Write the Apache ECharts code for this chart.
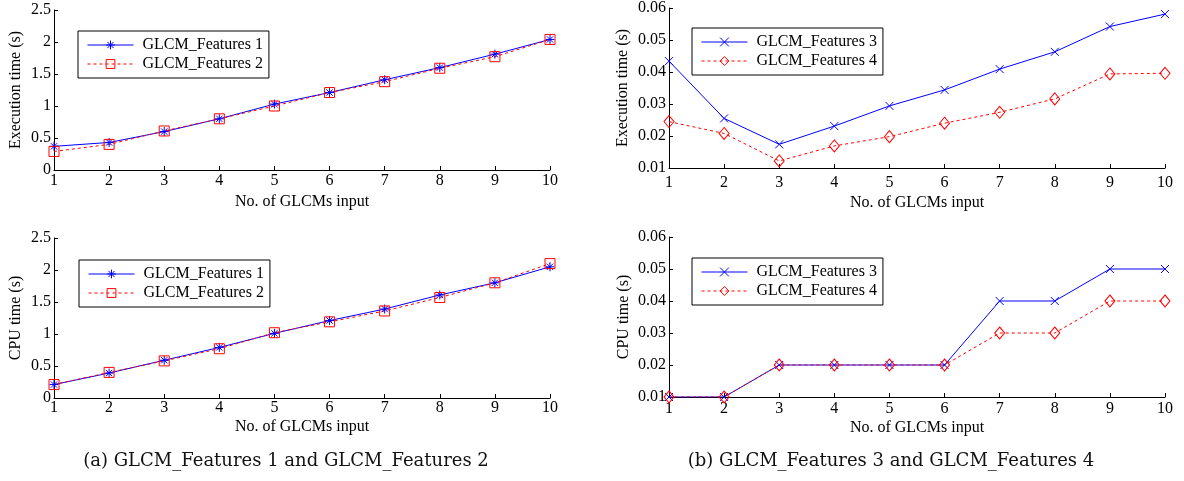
<!DOCTYPE html>
<html>
<head>
<meta charset="utf-8">
<script src="https://cdn.jsdelivr.net/npm/echarts@6/dist/echarts.min.js"></script>
<style>
html,body{margin:0;padding:0;background:#fff;}
#c{width:1184px;height:481px;}
</style>
</head>
<body>
<div id="c"></div>
<script>
const xInputs = [1,2,3,4,5,6,7,8,9,10];
const execF1 = [0.37,0.43,0.60,0.80,1.03,1.21,1.41,1.60,1.81,2.04];
const execF2 = [0.29,0.40,0.61,0.80,1.00,1.21,1.38,1.59,1.77,2.04];
const cpuF1  = [0.21,0.39,0.59,0.79,1.01,1.21,1.39,1.61,1.80,2.05];
const cpuF2  = [0.21,0.40,0.58,0.77,1.02,1.19,1.36,1.57,1.80,2.10];
const execF3 = [0.0434,0.0255,0.0174,0.0231,0.0294,0.0344,0.0409,0.0463,0.0542,0.0581];
const execF4 = [0.0245,0.0208,0.0122,0.0169,0.0198,0.0240,0.0274,0.0316,0.0394,0.0396];
const cpuF3  = [0.01,0.01,0.02,0.02,0.02,0.02,0.04,0.04,0.05,0.05];
const cpuF4  = [0.01,0.01,0.02,0.02,0.02,0.02,0.03,0.03,0.04,0.04];
const names = ['GLCM_Features 1','GLCM_Features 2','GLCM_Features 3','GLCM_Features 4'];
const xAxisName = 'No. of GLCMs input';
const yNames = ['Execution time (s)','CPU time (s)','Execution time (s)','CPU time (s)'];
const captions = ['(a) GLCM_Features 1 and GLCM_Features 2','(b) GLCM_Features 3 and GLCM_Features 4'];

const FONT = '"Liberation Serif", "Times New Roman", serif';
const BLUE = '#0000ff', RED = '#ff0000';
const SYM = {
  star: 'path://M5,0L5,10M0,5L10,5M1.5,1.5L8.5,8.5M1.5,8.5L8.5,1.5',
  square: 'path://M0,0L10,0L10,10L0,10Z',
  cross: 'path://M0,0L10,10M0,10L10,0',
  diamond: 'path://M5,0L10,6L5,12L0,6Z'
};
const pair = arr => xInputs.map((x,i)=>[x, arr[i]]);

const grids = [
  {left:54, top:10, width:496, height:160},
  {left:54, top:238, width:496, height:160},
  {left:669, top:8, width:496, height:160},
  {left:669, top:237, width:496, height:160}
];
const xLabelMargin = [3,2,7,4];
const xNameGap = [24,21,27,23];
const yNameGap = [30,30,38,37];

const axisCommon = {
  axisLine:{show:true, lineStyle:{color:'#000', width:1}},
  axisTick:{show:true, inside:true, length:4, lineStyle:{color:'#000'}},
  splitLine:{show:false},
  nameTextStyle:{fontFamily:FONT, fontSize:16, color:'#000'}
};

const xAxes = grids.map((g,i)=>Object.assign({}, axisCommon, {
  type:'value', gridIndex:i, min:1, max:10, interval:1,
  name:xAxisName, nameLocation:'middle', nameGap:xNameGap[i],
  axisLabel:{fontFamily:FONT, fontSize:16, color:'#000', margin:xLabelMargin[i]}
}));
const yAxes = grids.map((g,i)=>Object.assign({}, axisCommon, {
  type:'value', gridIndex:i,
  min: i<2 ? 0 : 0.01, max: i<2 ? 2.5 : 0.06, interval: i<2 ? 0.5 : 0.01,
  name:yNames[i], nameLocation:'middle', nameGap:yNameGap[i], nameRotate:90,
  axisLabel:{fontFamily:FONT, fontSize:16, color:'#000', margin:3,
    formatter: i<2 ? (v=>String(+v.toFixed(1))) : (v=>v.toFixed(2))}
}));

function mk(name, arr, idx, color, dashed, sym, size){
  return {
    type:'line', name, xAxisIndex:idx, yAxisIndex:idx, data:pair(arr),
    symbol:sym, symbolSize:size, showAllSymbol:true, animation:false,
    lineStyle:{color, width:1, type: dashed ? [3,3] : 'solid'},
    itemStyle:{color:'rgba(0,0,0,0)', borderColor:color, borderWidth:1}
  };
}
const series = [
  mk(names[0], execF1, 0, BLUE, false, SYM.star, 9),
  mk(names[1], execF2, 0, RED, true, SYM.square, 10),
  mk(names[0], cpuF1, 1, BLUE, false, SYM.star, 9),
  mk(names[1], cpuF2, 1, RED, true, SYM.square, 10),
  mk(names[2], execF3, 2, BLUE, false, SYM.cross, 8),
  mk(names[3], execF4, 2, RED, true, SYM.diamond, [10,12]),
  mk(names[2], cpuF3, 3, BLUE, false, SYM.cross, 8),
  mk(names[3], cpuF4, 3, RED, true, SYM.diamond, [10,12])
];

const legPos = [
  {left:78, top:31, data:[names[0],names[1]]},
  {left:79, top:260, data:[names[0],names[1]]},
  {left:692, top:28, data:[names[2],names[3]]},
  {left:692, top:258, data:[names[2],names[3]]}
];
const legends = legPos.map(p=>({
  left:p.left, top:p.top, orient:'vertical', data:p.data,
  itemWidth:46, itemHeight:11, itemGap:3, selectedMode:false,
  padding:[6,6,6,9], borderColor:'#000', borderWidth:1, backgroundColor:'#fff',
  lineStyle:{width:1},
  itemStyle:{borderWidth:1},
  textStyle:{fontFamily:FONT, fontSize:16, color:'#000', padding:[0,0,0,4]}
}));

const chart = echarts.init(document.getElementById('c'), null, {renderer:'canvas'});
chart.setOption({
  backgroundColor:'#fff',
  animation:false,
  grid:grids,
  xAxis:xAxes,
  yAxis:yAxes,
  legend:legends,
  series,
  graphic:[
    {type:'text', x:286, y:461, style:{text:captions[0], font:'18px "DejaVu Serif", serif', fill:'#111', textAlign:'center', textVerticalAlign:'middle'}},
    {type:'text', x:891, y:461, style:{text:captions[1], font:'18px "DejaVu Serif", serif', fill:'#111', textAlign:'center', textVerticalAlign:'middle'}}
  ]
});
</script>
</body>
</html>
